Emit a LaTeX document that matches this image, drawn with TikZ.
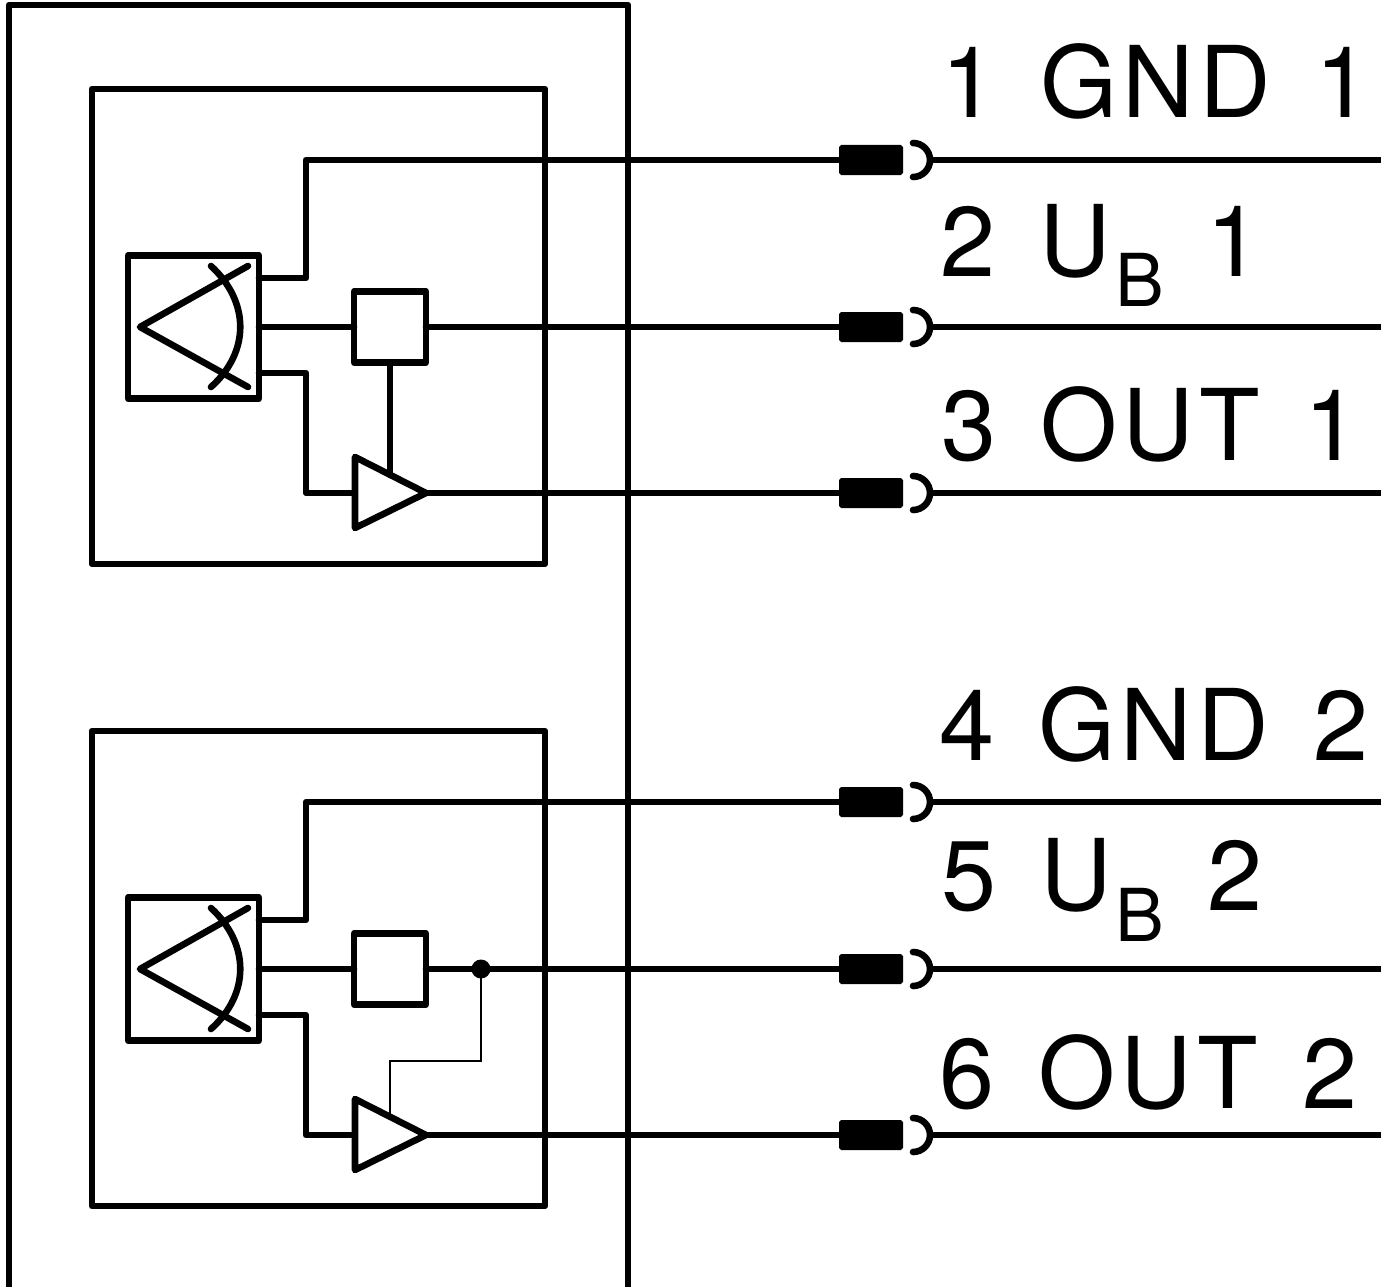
\documentclass[tikz,border=0pt]{standalone}
\usepackage{fontspec}
\setmainfont{TeX Gyre Heros}
\newfontfamily\labelfont[LetterSpace=5.5,WordSpace=1.35]{TeX Gyre Heros}
\tikzset{x=1pt,y=-1pt,
  wire/.style={line width=6.6pt,line join=round,line cap=round,black},
  thinwire/.style={line width=1.8pt,black},
  pt/.style={inner sep=0pt,outer sep=0pt,minimum size=0pt},
  pinlabel/.style={anchor=base west,inner sep=0pt,outer sep=0pt,font=\labelfont\fontsize{99}{104}\selectfont},
  sublabel/.style={anchor=base west,inner sep=0pt,outer sep=0pt,font=\fontsize{73}{76}\selectfont},
  plug/.style={fill=black,draw=black,line width=2pt,rounded corners=1.5pt}}
\begin{document}
\begin{tikzpicture}
\useasboundingbox (0,0) rectangle (1392,1287);
\fill[white] (0,0) rectangle (1392,1287);
\begin{scope}
\clip (0,0) rectangle (1392,1287);
\draw[wire] (9,1300) -- (9,5) -- (628,5) -- (628,1300);
\end{scope}
\foreach \c/\dy in {A/0,B/642}{
\begin{scope}[yshift=-\dy pt]
  \draw[wire] (92,89) rectangle (545,564);
  \node[draw,wire,pt,minimum width=131pt,minimum height=143pt,anchor=north west,fill=none] (sens\c) at (128,255.5) {};
  \node[draw,wire,pt,minimum width=72pt,minimum height=71pt,anchor=north west] (reg\c) at (354,291.5) {};
  \coordinate (tipA\c) at (426,493);
  \coordinate (tri\c) at (354.5,493);
  \draw[wire] (355,457) -- (tipA\c) -- (355,528) -- cycle;
  \draw[wire] (248,266) -- (140,327) -- (248,387);
  \draw[wire] (211,266) .. controls (250,302) and (250,352) .. (211,387);
  \foreach \w/\y in {a/160,b/327,c/493}{
    \node[plug,pt,minimum width=62pt,minimum height=28pt,anchor=west] (plug\c\w) at (840,\y) {};
    \coordinate (jack\c\w) at (930,\y);
    \coordinate (end\c\w) at (1381,\y);
    \draw[wire,line cap=round] (913,\y-17) arc[start angle=-90,end angle=90,radius=17];
    \draw[wire,line cap=butt] (jack\c\w) -- (end\c\w);
  }
  \coordinate (sa\c) at (sens\c.east |- 0,278);
  \coordinate (sc\c) at (sens\c.east |- 0,373);
  \draw[wire] (sa\c) -- (306,278) -- (306,160) -- (plug\c a.west);
  \draw[wire] (sens\c.east) -- (reg\c.west);
  \draw[wire] (sc\c) -- (306,373) -- (306,493) -- (tri\c);
  \draw[wire] (reg\c.east) -- (plug\c b.west);
  \draw[wire] (tipA\c) -- (plug\c c.west);
\end{scope}}
\draw[wire] (regA.south) -- (390,475);
\node[circle,fill=black,pt,minimum size=19pt] (dot) at (481,969) {};
\coordinate (sup) at (390,1116);
\draw[thinwire] (dot.center) -- (481,1061) -- (390,1061) -- (sup);
\node[pinlabel] (l1) at (941,118) {1 GND 1};
\node[pinlabel] (l2) at (940,276) {2 U};
\node[sublabel] (l2b) at (1115,306) {B};
\node[pinlabel] (l2c) at (1206,276) {1};
\node[pinlabel] (l3) at (941,460) {3 OUT 1};
\node[pinlabel] (l4) at (939,760) {4 GND 2};
\node[pinlabel] (l5) at (941,910) {5 U};
\node[sublabel] (l5b) at (1115,941) {B};
\node[pinlabel] (l5c) at (1207,910) {2};
\node[pinlabel] (l6) at (939,1108) {6 OUT 2};
\end{tikzpicture}
\end{document}
